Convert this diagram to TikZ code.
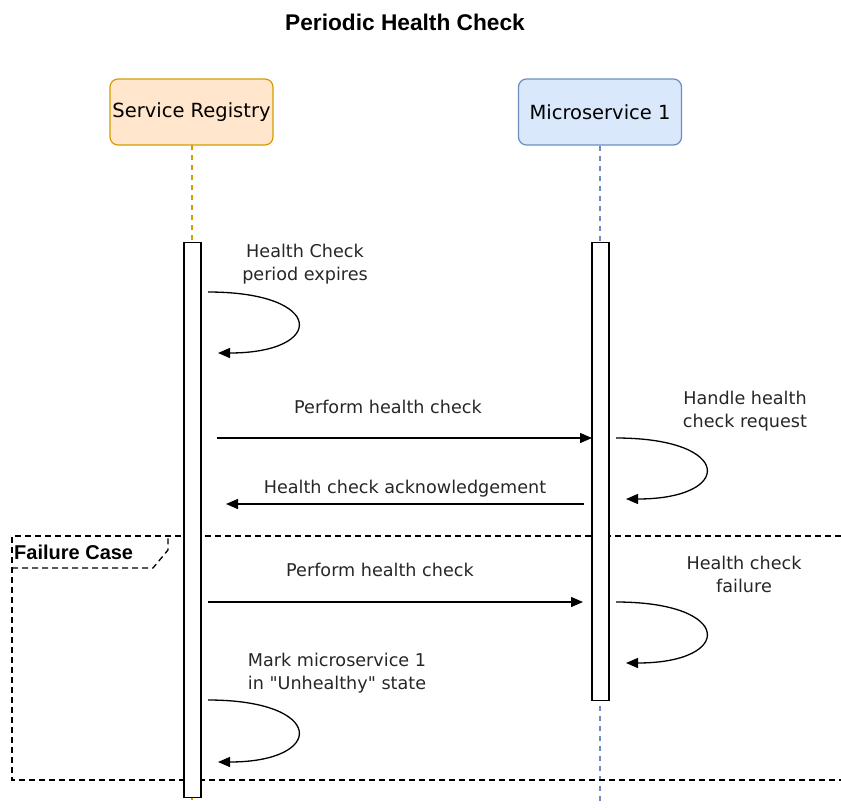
\documentclass[tikz,border=0pt]{standalone}
\usepackage{fontspec}
\setmainfont{DejaVu Sans}
\newfontfamily\headfont{Liberation Sans}
\newfontfamily\quotefont[Ligatures=TeXOff]{DejaVu Sans}
\usetikzlibrary{arrows.meta}
\definecolor{srfill}{HTML}{FFE6CC}
\definecolor{srline}{HTML}{D79B00}
\definecolor{msfill}{HTML}{DAE8FC}
\definecolor{msline}{HTML}{6C8EBF}
\begin{document}
\begin{tikzpicture}[x=1pt,y=-1pt,
 actor/.style={draw, rounded corners=8pt, line width=1.2pt, minimum width=163pt, minimum height=66pt, font=\fontsize{19.5}{22}\selectfont, inner sep=0pt},
 actbar/.style={draw=black, fill=white, line width=1.3pt, minimum width=17pt, inner sep=0pt, anchor=north},
 msg/.style={line width=1.3pt, -{Triangle[length=12pt,width=10pt]}},
 lbl/.style={font=\fontsize{17.6}{23}\selectfont, align=center, inner sep=0pt, text=black!85},
 life/.style={line width=1.4pt, dash pattern=on 5pt off 5pt},
 framed/.style={line width=1.3pt, dash pattern=on 6pt off 4pt}
]
\useasboundingbox (0,0) rectangle (841,809);

% title
\node[font=\headfont\bfseries\fontsize{22.7}{26}\selectfont] (title) at (405,22) {Periodic Health Check};

% actors
\node[actor, fill=srfill, draw=srline] (sr) at (191.5,112) {Service Registry};
\node[actor, fill=msfill, draw=msline] (ms) at (600,112) {Microservice 1};

% lifelines
\coordinate (srtop) at (192,145);
\coordinate (srend) at (192,805);
\coordinate (msend) at (600,805);
\draw[life, srline] (srtop) -- (srend);
\draw[life, msline] (ms.south) -- (msend);

% failure frame
\coordinate (fa) at (841,536);
\coordinate (fb) at (12,536);
\coordinate (fc) at (12,780);
\coordinate (fd) at (841,780);
\draw[framed] (fa) -- (fb) -- (fc) -- (fd);
\coordinate (ta) at (12,568);
\coordinate (tb) at (153,568);
\coordinate (tc) at (168,550);
\coordinate (td) at (168,536);
\draw[framed] (ta) -- (tb) -- (tc) -- (td);
\node[anchor=west, inner sep=0pt, font=\headfont\bfseries\fontsize{20}{22}\selectfont] (fl) at (14,552) {Failure Case};

% activation bars
\node[actbar, minimum height=555pt] (srbar) at (192.5,242) {};
\node[actbar, minimum height=458pt] (msbar) at (600.5,242) {};

% self loop 1
\coordinate (l1s) at (208,292);
\coordinate (l1e) at (218,353);
\draw[msg] (l1s) .. controls (326,292) and (326,353) .. (l1e);
\node[lbl] (t1) at (305,264.5) {Health Check\\period expires};

% perform health check
\coordinate (m1s) at (217,438);
\coordinate (m1e) at (592,438);
\draw[msg] (m1s) -- (m1e);
\node[lbl] (t2) at (388,407) {Perform health check};

% self loop 2
\coordinate (l2s) at (616,438);
\coordinate (l2e) at (626,499);
\draw[msg] (l2s) .. controls (734,438) and (734,499) .. (l2e);
\node[lbl] (t3) at (745,411.5) {Handle health\\check request};

% ack
\coordinate (m2s) at (584,504);
\coordinate (m2e) at (226,504);
\draw[msg] (m2s) -- (m2e);
\node[lbl] (t4) at (405,489) {Health check acknowledgement};

% perform health check 2
\coordinate (m3s) at (208,602);
\coordinate (m3e) at (583,602);
\draw[msg] (m3s) -- (m3e);
\node[lbl] (t5) at (380,570) {Perform health check};

% self loop 3
\coordinate (l3s) at (616,602);
\coordinate (l3e) at (626,663);
\draw[msg] (l3s) .. controls (734,602) and (734,663) .. (l3e);
\node[lbl] (t6) at (744,574.5) {Health check\\failure};

% self loop 4
\coordinate (l4s) at (208,700);
\coordinate (l4e) at (218,762);
\draw[msg] (l4s) .. controls (326,700) and (326,762) .. (l4e);
\node[lbl] (t7) at (337,673.5) {Mark microservice 1\\in {\quotefont"}Unhealthy{\quotefont"} state};
\end{tikzpicture}
\end{document}
